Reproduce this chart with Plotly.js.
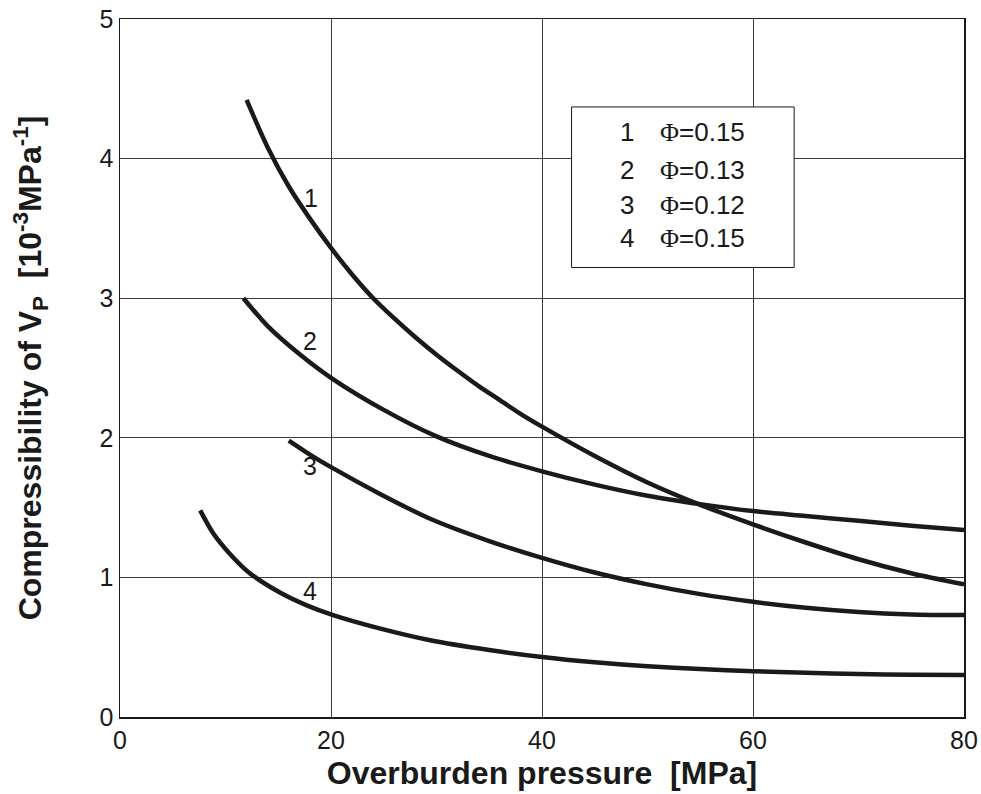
<!DOCTYPE html>
<html><head><meta charset="utf-8">
<script src="https://cdn.plot.ly/plotly-3.0.1.min.js"></script>
<style>body{margin:0;background:#fff}</style>
</head><body><div id="chart" style="width:981px;height:794px"></div>
<script>
// Curve data (pressure in MPa, compressibility in 1e-3/MPa)
const x1 = [12.0, 14.0, 16.0, 18.0, 20.0, 22.0, 24.0, 26.0, 28.0, 30.0, 32.0, 34.0, 36.0, 38.0, 40.0, 45.0, 50.0, 55.0, 60.0, 65.0, 70.0, 75.0, 80.0];
const y1 = [4.42, 4.08, 3.80, 3.57, 3.36, 3.17, 3.00, 2.855, 2.72, 2.595, 2.48, 2.37, 2.27, 2.17, 2.08, 1.87, 1.68, 1.52, 1.38, 1.25, 1.13, 1.03, 0.95];
const x2 = [11.7, 14.0, 17.0, 20.0, 25.0, 30.0, 35.0, 40.0, 45.0, 50.0, 55.0, 60.0, 65.0, 70.0, 75.0, 80.0];
const y2 = [3.00, 2.80, 2.60, 2.43, 2.20, 2.01, 1.87, 1.76, 1.665, 1.585, 1.525, 1.475, 1.44, 1.405, 1.37, 1.34];
const x3 = [16.0, 18.0, 20.0, 24.6, 29.4, 35.0, 40.0, 45.0, 50.0, 55.0, 60.0, 65.0, 70.0, 75.0, 80.0];
const y3 = [1.98, 1.88, 1.79, 1.60, 1.42, 1.26, 1.14, 1.035, 0.95, 0.88, 0.825, 0.782, 0.752, 0.735, 0.73];
const x4 = [7.6, 8.8, 10.4, 12.3, 15.2, 17.7, 20.2, 24.6, 29.4, 35.0, 40.0, 45.0, 50.0, 55.0, 60.0, 65.0, 70.0, 75.0, 80.0];
const y4 = [1.48, 1.32, 1.17, 1.03, 0.89, 0.80, 0.73, 0.635, 0.55, 0.48, 0.43, 0.392, 0.363, 0.343, 0.328, 0.317, 0.308, 0.302, 0.30];
const curveLabels = ["1", "2", "3", "4"];
const labelX = [18.1, 18.0, 18.0, 18.0];
const labelY = [3.72, 2.69, 1.80, 0.90];
const legendNum = ["1", "2", "3", "4"];
const legendPhi = ["0.15", "0.13", "0.12", "0.15"];

const xs = [x1, x2, x3, x4], ys = [y1, y2, y3, y4];
const traces = xs.map((x, i) => ({
  x: x, y: ys[i], type: "scatter", mode: "lines",
  line: {color: "#1a1a1a", width: 4.5, shape: "spline", smoothing: 0.8},
  hoverinfo: "skip", showlegend: false
}));

const font = {family: "Liberation Sans, Arial, sans-serif", color: "#1a1a1a"};
const annotations = curveLabels.map((t, i) => ({
  x: labelX[i], y: labelY[i], xref: "x", yref: "y", text: t, showarrow: false,
  font: Object.assign({}, font, {size: 25})
}));
// legend box text
const rowY = [4.19, 3.92, 3.67, 3.43];
legendNum.forEach((n, i) => {
  annotations.push({
    xref: "x", yref: "y", x: 48.9, y: rowY[i], xanchor: "right", showarrow: false,
    text: n, font: Object.assign({}, font, {size: 26})
  });
  annotations.push({
    xref: "x", yref: "y", x: 51.0, y: rowY[i], xanchor: "left", showarrow: false,
    text: '<span style="font-family:Liberation Serif">Φ</span>=' + legendPhi[i],
    font: Object.assign({}, font, {size: 26})
  });
});

const layout = {
  width: 981, height: 794,
  margin: {l: 120, r: 17, t: 19, b: 77},
  paper_bgcolor: "#fff", plot_bgcolor: "#fff",
  showlegend: false,
  xaxis: {
    range: [0, 80], tickvals: [0, 20, 40, 60, 80], ticks: "",
    showgrid: true, gridcolor: "#3a3a3a", gridwidth: 1,
    zeroline: false, showline: true, linecolor: "#1a1a1a", linewidth: 1.5, mirror: true,
    tickfont: {family: "Liberation Sans, Arial", size: 25, color: "#1a1a1a"},
    title: {text: "<b>Overburden pressure  [MPa]</b>", font: {family: "Liberation Sans, Arial", size: 32, color: "#1a1a1a"}, standoff: 9}
  },
  yaxis: {
    range: [0, 5], tickvals: [0, 1, 2, 3, 4, 5], ticks: "",
    showgrid: true, gridcolor: "#3a3a3a", gridwidth: 1,
    zeroline: false, showline: true, linecolor: "#1a1a1a", linewidth: 1.5, mirror: true,
    tickfont: {family: "Liberation Sans, Arial", size: 25, color: "#1a1a1a"},
    title: {text: "<b>Compressibility of V<sub>P</sub>  [10<sup>-3</sup>MPa<sup>-1</sup>]</b>", font: {family: "Liberation Sans, Arial", size: 32, color: "#1a1a1a"}, standoff: 48}
  },
  shapes: [{
    type: "rect", xref: "x", yref: "y", x0: 42.8, x1: 63.9, y0: 3.22, y1: 4.37,
    line: {color: "#1a1a1a", width: 1}, fillcolor: "#fff", layer: "above"
  }],
  annotations: annotations
};
Plotly.newPlot("chart", traces, layout, {staticPlot: true});
</script></body></html>
